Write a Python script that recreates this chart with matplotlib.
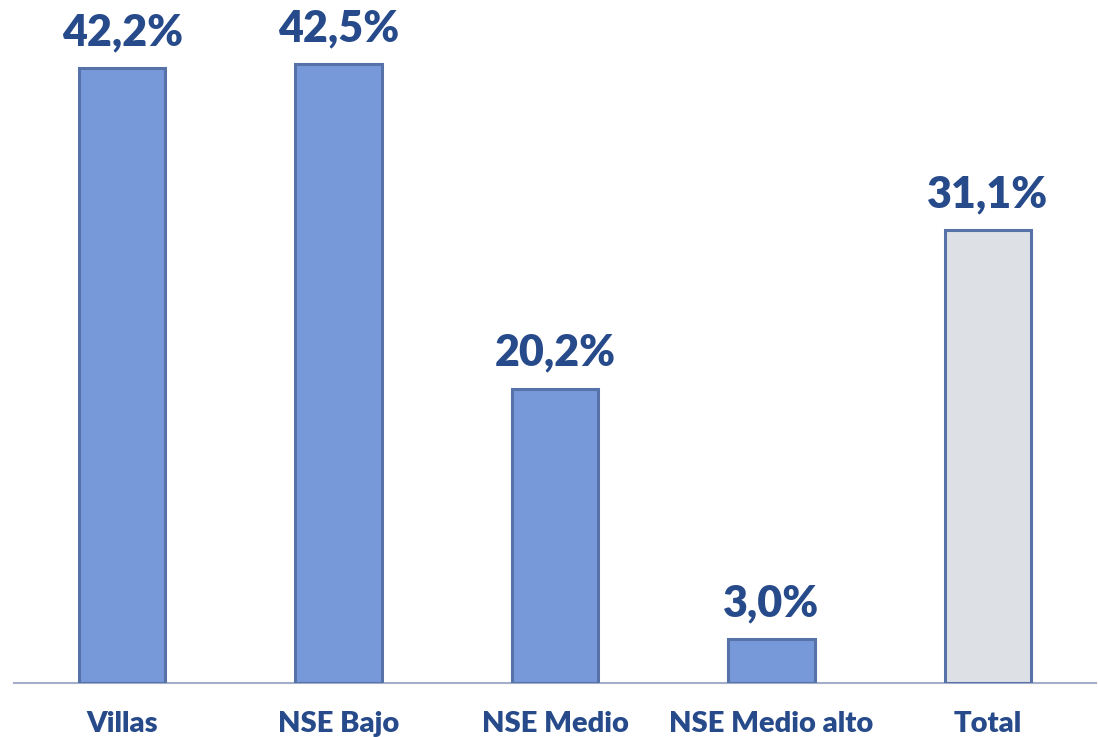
import matplotlib.pyplot as plt

categories = ["Villas", "NSE Bajo", "NSE Medio", "NSE Medio alto", "Total"]
values = [42.2, 42.5, 20.2, 3.0, 31.1]
labels = ["42,2%", "42,5%", "20,2%", "3,0%", "31,1%"]
fills = ["#7799D9", "#7799D9", "#7799D9", "#7799D9", "#DDE0E5"]

plt.rcParams['font.family'] = ['Lato', 'DejaVu Sans']

fig = plt.figure(figsize=(10.98, 7.37), dpi=100)
ax = fig.add_axes([14 / 1098, 54 / 737, 1082 / 1098, 683 / 737])

x = range(len(categories))
ax.bar(x, values, width=0.4, color=fills, edgecolor="#5672A8", linewidth=2.2, zorder=3)

for i, (v, lab) in enumerate(zip(values, labels)):
    ax.text(i, v + 1.1, lab, ha="center", va="bottom", fontsize=31,
            fontweight="heavy", color="#264A8A")

ax.set_xlim(-0.5, 4.5)
ax.set_ylim(0, 46.9)
ax.set_yticks([])
ax.set_xticks(list(x))
ax.set_xticklabels(categories, fontsize=21, fontweight="heavy", color="#264A8A")
ax.tick_params(axis="x", length=0, pad=20)
for side in ["top", "right", "left"]:
    ax.spines[side].set_visible(False)
ax.spines["bottom"].set_color("#A5AEC8")
ax.spines["bottom"].set_linewidth(1.5)

fig.savefig("out.png", dpi=100)
